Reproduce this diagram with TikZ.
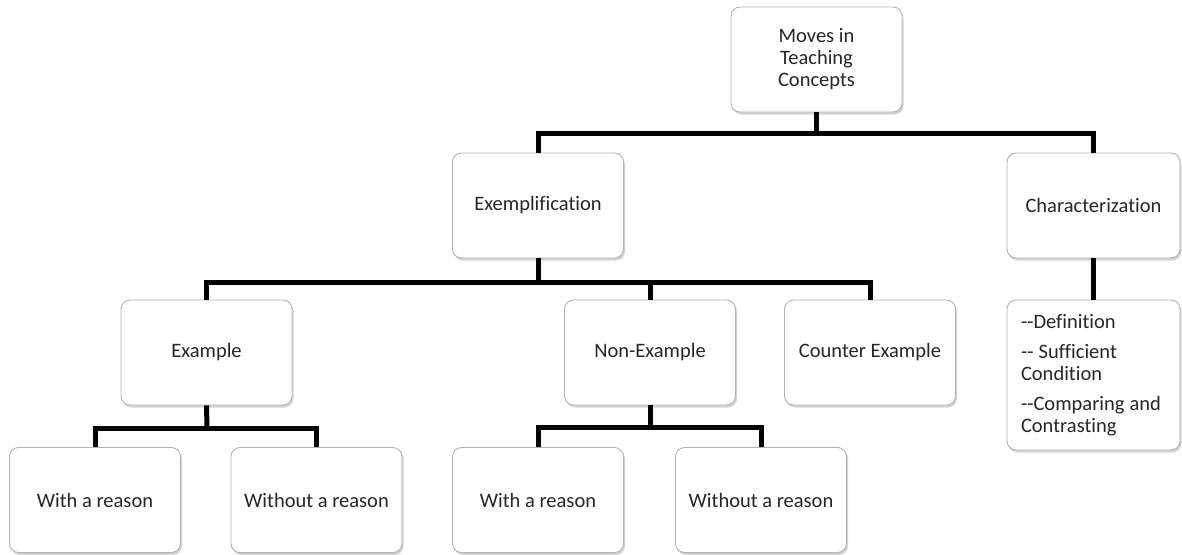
\documentclass[tikz,border=0pt]{standalone}
\usepackage{fontspec}
\setmainfont[Ligatures=NoCommon]{Carlito}
\usetikzlibrary{shadows}
\begin{document}
\begin{tikzpicture}[x=1pt,y=-1pt,
  box/.style={draw=gray!60, line width=0.9pt, rounded corners=9pt, fill=white,
    minimum width=171pt, minimum height=105pt, align=center, inner sep=2pt,
    font=\fontsize{20.5}{22}\selectfont, text=black!85,
    drop shadow={shadow xshift=1.5pt, shadow yshift=-2.5pt, opacity=0.35}},
  conn/.style={line width=5pt, line join=miter, black}]
\useasboundingbox (0,0) rectangle (1182,554);
\node[box] (root) at (816.5,59.5) {Moves in\\Teaching\\Concepts};
\node[box] (exem) at (538,205.5) {Exemplification};
\node[box, minimum width=173pt] (char) at (1093.5,205.5) {Characterization};
\node[box] (example) at (206.5,352.5) {Example};
\node[box] (nonex) at (650,352.5) {Non-Example};
\node[box] (counter) at (870,352.5) {Counter Example};
\node[box, minimum width=173pt, minimum height=150pt, align=left, text width=145pt] (list) at (1093.5,375)
  {-{}-Definition\\[8pt]-{}-\hspace{0.25em}Sufficient\\Condition\\[8pt]-{}-Comparing\hspace{0.25em}and\\Contrasting};
\node[box] (w1) at (95,500) {With a reason};
\node[box] (wo1) at (316.5,500) {Without a reason};
\node[box] (w2) at (538,500) {With a reason};
\node[box] (wo2) at (761,500) {Without a reason};
% buses
\coordinate (b1) at (816.5,133);
\coordinate (b2) at (538,282);
\coordinate (b3) at (207,428);
\coordinate (b4) at (650,427);
\draw[conn] (root.south) -- (b1);
\draw[conn] (exem.north) |- (b1) -| (char.north);
\draw[conn] (exem.south) -- (b2);
\draw[conn] (example.north) |- (b2) -| (counter.north);
\draw[conn] (b2 -| nonex.north) -- (nonex.north);
\draw[conn] (char.south) -- (list.north);
\draw[conn] (example.south) -- (b3);
\draw[conn] (w1.north) |- (b3) -| (wo1.north);
\draw[conn] (nonex.south) -- (b4);
\draw[conn] (w2.north) |- (b4) -| (wo2.north);
\end{tikzpicture}
\end{document}
